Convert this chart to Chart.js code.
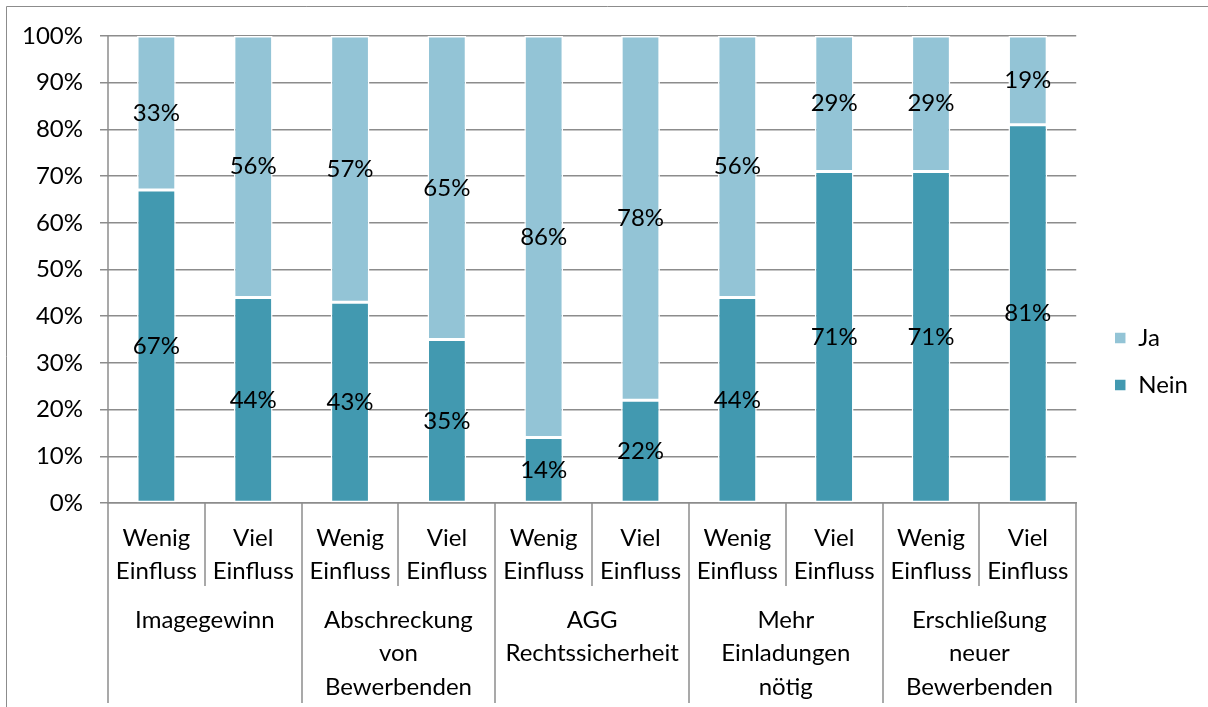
<!DOCTYPE html>
<html>
<head>
<meta charset="utf-8">
<script src="https://cdn.jsdelivr.net/npm/chart.js@4"></script>
<style>
  html, body { margin: 0; padding: 0; background: #fff; }
  #wrap { width: 1208px; height: 707px; position: relative; }
</style>
</head>
<body>
<div id="wrap"><canvas id="chart" width="1208" height="707"></canvas></div>
<script>
// --- data ---
const subLabels = [
  ['Wenig', 'Einfluss'], ['Viel', 'Einfluss'],
  ['Wenig', 'Einfluss'], ['Viel', 'Einfluss'],
  ['Wenig', 'Einfluss'], ['Viel', 'Einfluss'],
  ['Wenig', 'Einfluss'], ['Viel', 'Einfluss'],
  ['Wenig', 'Einfluss'], ['Viel', 'Einfluss']
];
const groupLabels = [
  ['Imagegewinn'],
  ['Abschreckung', 'von', 'Bewerbenden'],
  ['AGG', 'Rechtssicherheit'],
  ['Mehr', 'Einladungen', 'nötig'],
  ['Erschließung', 'neuer', 'Bewerbenden']
];
const neinValues = [67, 44, 43, 35, 14, 22, 44, 71, 71, 81];
const jaValues = [33, 56, 57, 65, 86, 78, 56, 29, 29, 19];
const yTicks = [0, 10, 20, 30, 40, 50, 60, 70, 80, 90, 100];

const FONT = 'Lato';
const FONT_SIZE = 24;
const LINE_COLOR = '#8c8c8c';
const NEIN_COLOR = '#4299b0';
const JA_COLOR = '#93c4d6';
const LEGEND_SHIFT = 15;

Chart.defaults.font.family = FONT;
Chart.defaults.font.size = FONT_SIZE;
Chart.defaults.color = '#000';

/**
 * Outer frame, group separators and group labels
 */
const groupAxisPlugin = {
  id: 'groupAxis',
  afterInit(chart) {
    // nudge the legend a bit further away from the plot
    const legend = chart.legend;
    if (!legend) return;
    const draw = legend.draw.bind(legend);
    legend.draw = function () {
      const ctx = chart.ctx;
      ctx.save();
      ctx.translate(LEGEND_SHIFT, 0);
      draw();
      ctx.restore();
    };
  },
  beforeDraw(chart) {
    const ctx = chart.ctx;
    ctx.save();
    ctx.strokeStyle = LINE_COLOR;
    ctx.lineWidth = 1;
    ctx.beginPath();
    ctx.moveTo(6.5, 707);
    ctx.lineTo(6.5, 6.5);
    ctx.lineTo(1208, 6.5);
    ctx.stroke();
    ctx.restore();
  },
  afterDraw(chart) {
    const ctx = chart.ctx;
    const x = chart.scales.x;
    const area = chart.chartArea;
    const step = x.getPixelForValue(1) - x.getPixelForValue(0);
    ctx.save();
    ctx.strokeStyle = LINE_COLOR;
    ctx.lineWidth = 1.5;
    // separators between the sub categories
    for (let i = 0; i <= subLabels.length; i++) {
      const px = Math.round(x.getPixelForValue(i) - step / 2);
      const isGroup = i % 2 === 0;
      ctx.beginPath();
      ctx.moveTo(px, area.bottom);
      ctx.lineTo(px, isGroup ? 703 : area.bottom + 83);
      ctx.stroke();
    }
    // vertical axis line
    ctx.beginPath();
    ctx.moveTo(area.left, area.top);
    ctx.lineTo(area.left, area.bottom);
    ctx.stroke();

    // group labels
    ctx.fillStyle = '#000';
    ctx.font = FONT_SIZE + 'px ' + FONT;
    ctx.textAlign = 'center';
    ctx.textBaseline = 'middle';
    groupLabels.forEach((lines, g) => {
      const cx = (x.getPixelForValue(g * 2) + x.getPixelForValue(g * 2 + 1)) / 2;
      lines.forEach((line, k) => {
        ctx.fillText(line, cx, area.bottom + 117 + k * 33.5);
      });
    });
    ctx.restore();
  }
};

/**
 * Percent labels in the middle of each segment
 */
const segmentLabelPlugin = {
  id: 'segmentLabels',
  afterDatasetsDraw(chart) {
    const ctx = chart.ctx;
    ctx.save();
    ctx.fillStyle = '#000';
    ctx.font = FONT_SIZE + 'px ' + FONT;
    ctx.textAlign = 'center';
    ctx.textBaseline = 'middle';
    chart.data.datasets.forEach((ds, di) => {
      const meta = chart.getDatasetMeta(di);
      meta.data.forEach((bar, i) => {
        const cy = (bar.y + bar.base) / 2;
        ctx.fillText(ds.data[i] + '%', bar.x, cy);
      });
    });
    ctx.restore();
  }
};

new Chart(document.getElementById('chart'), {
  type: 'bar',
  data: {
    labels: subLabels,
    datasets: [
      {
        label: 'Nein',
        data: neinValues,
        backgroundColor: NEIN_COLOR,
        borderColor: '#ffffff',
        borderWidth: 1.5,
        borderSkipped: false
      },
      {
        label: 'Ja',
        data: jaValues,
        backgroundColor: JA_COLOR,
        borderColor: '#ffffff',
        borderWidth: 1.5,
        borderSkipped: false
      }
    ]
  },
  options: {
    responsive: false,
    animation: false,
    layout: {
      padding: { top: 36, right: 25, bottom: 20, left: 0 }
    },
    datasets: {
      bar: { categoryPercentage: 1, barPercentage: 0.4 }
    },
    plugins: {
      legend: {
        position: 'right',
        reverse: true,
        labels: {
          boxWidth: 12,
          boxHeight: 12,
          padding: 23,
          color: '#000',
          font: { size: FONT_SIZE, family: FONT }
        }
      },
      tooltip: { enabled: false }
    },
    scales: {
      x: {
        stacked: true,
        grid: { display: false },
        border: { display: true, color: LINE_COLOR, width: 1.5 },
        ticks: {
          padding: 10,
          maxRotation: 0,
          autoSkip: false,
          color: '#000',
          font: { size: FONT_SIZE, family: FONT, lineHeight: 1.4 }
        },
        afterFit(scale) { scale.height = 184; }
      },
      y: {
        stacked: true,
        min: 0,
        max: 100,
        afterBuildTicks(scale) {
          scale.ticks = yTicks.map(v => ({ value: v }));
        },
        grid: {
          color: LINE_COLOR,
          lineWidth: 1.5,
          tickLength: 8
        },
        border: { display: false },
        ticks: {
          padding: 17,
          color: '#000',
          font: { size: FONT_SIZE, family: FONT },
          callback: v => v + '%'
        },
        afterFit(scale) { scale.width = 108; }
      }
    }
  },
  plugins: [groupAxisPlugin, segmentLabelPlugin]
});
</script>
</body>
</html>
